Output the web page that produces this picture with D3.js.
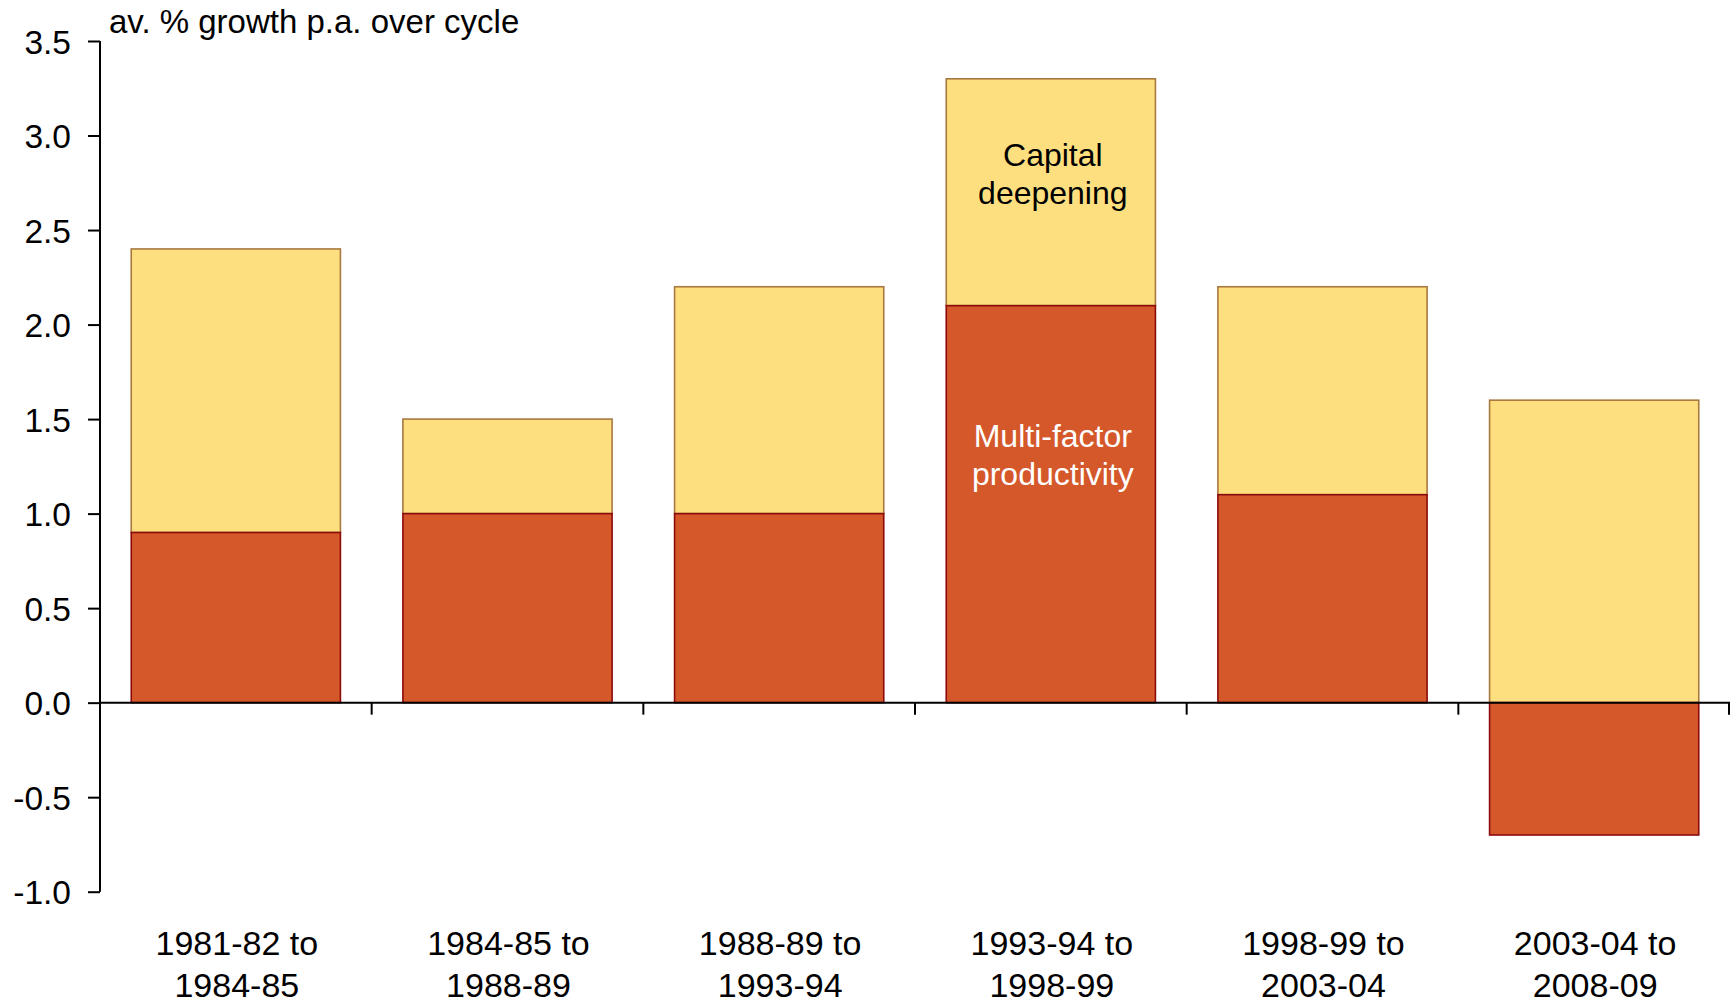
<!DOCTYPE html>
<html>
<head>
<meta charset="utf-8">
<script src="https://cdn.jsdelivr.net/npm/d3@7"></script>
<style>
  html, body { margin: 0; padding: 0; background: #fff; }
  svg { display: block; }
  text { font-family: "Liberation Sans", Arial, sans-serif; }
</style>
</head>
<body>
<svg id="chart" width="1730" height="1002"></svg>
<script>
// ---- data ----
const categories = [
  ["1981-82 to", "1984-85"],
  ["1984-85 to", "1988-89"],
  ["1988-89 to", "1993-94"],
  ["1993-94 to", "1998-99"],
  ["1998-99 to", "2003-04"],
  ["2003-04 to", "2008-09"]
];
const multiFactor = [0.9, 1.0, 1.0, 2.1, 1.1, -0.7];
const capitalDeepening = [1.5, 0.5, 1.2, 1.2, 1.1, 1.6];
const yTicks = [-1.0, -0.5, 0.0, 0.5, 1.0, 1.5, 2.0, 2.5, 3.0, 3.5];
const yTitle = "av. % growth p.a. over cycle";
const labelCapital = ["Capital", "deepening"];
const labelMFP = ["Multi-factor", "productivity"];

// ---- layout ----
const svg = d3.select("#chart");
const mLeft = 100, mRight = 1730, mTop = 41, mBottom = 891.7;
const catKeys = categories.map((c, i) => i);

const x = d3.scaleBand().domain(catKeys).range([mLeft, mRight])
  .paddingInner(0.23).paddingOuter(0.115);
const y = d3.scaleLinear().domain([-1, 3.5]).range([mBottom, mTop]);

const yellow = "#FDDF7F", yellowStroke = "#A8783F";
const red = "#D5582B", redStroke = "#8B0A0A";

// stacked segments: capital deepening stacked on positive MFP, else from 0
const segs = catKeys.map(i => {
  const m = multiFactor[i], c = capitalDeepening[i];
  const base = m > 0 ? m : 0;
  return { i, m, c0: base, c1: base + c };
});

// yellow (capital deepening)
svg.append("g").selectAll("rect").data(segs).join("rect")
  .attr("x", d => x(d.i))
  .attr("width", x.bandwidth())
  .attr("y", d => y(d.c1))
  .attr("height", d => y(d.c0) - y(d.c1))
  .attr("fill", yellow)
  .attr("stroke", yellowStroke)
  .attr("stroke-width", 1.6);

// red (multi-factor productivity)
svg.append("g").selectAll("rect").data(segs).join("rect")
  .attr("x", d => x(d.i))
  .attr("width", x.bandwidth())
  .attr("y", d => y(Math.max(0, d.m)))
  .attr("height", d => Math.abs(y(d.m) - y(0)))
  .attr("fill", red)
  .attr("stroke", redStroke)
  .attr("stroke-width", 1.6);

// y axis
const yAxis = d3.axisLeft(y).tickValues(yTicks).tickFormat(d => d.toFixed(1))
  .tickSize(12).tickPadding(17);
const gy = svg.append("g").attr("transform", `translate(${mLeft},0)`).call(yAxis);
gy.select(".domain").attr("stroke", "#000").attr("stroke-width", 2)
  .attr("d", `M0,${y(3.5)}V${y(-1)}`);
gy.selectAll(".tick line").attr("stroke", "#000").attr("stroke-width", 2);
gy.selectAll(".tick text").attr("fill", "#000")
  .style("font-size", "33.5px").style("font-family", "'Liberation Sans', Arial, sans-serif")
  .attr("dy", "0.36em");

// x axis along zero
const step = x.step();
const gx = svg.append("g").attr("transform", `translate(0,${y(0)})`);
gx.append("line").attr("x1", mLeft).attr("x2", mRight).attr("y1", 0).attr("y2", 0)
  .attr("stroke", "#000").attr("stroke-width", 2);
gx.selectAll("line.cat").data(d3.range(1, categories.length + 1)).join("line")
  .attr("class", "cat")
  .attr("x1", d => mLeft + d * step - (d === categories.length ? 1 : 0))
  .attr("x2", d => mLeft + d * step - (d === categories.length ? 1 : 0))
  .attr("y1", 0).attr("y2", 12)
  .attr("stroke", "#000").attr("stroke-width", 2);

// category labels
const labels = svg.append("g");
catKeys.forEach(i => {
  const cx = x(i) + x.bandwidth() / 2 + 1;
  const t = labels.append("text").attr("text-anchor", "middle")
    .attr("x", cx).attr("y", 955)
    .style("font-size", "34px").attr("fill", "#000");
  t.append("tspan").attr("x", cx).text(categories[i][0]);
  t.append("tspan").attr("x", cx).attr("dy", 42).text(categories[i][1]);
});

// y title
svg.append("text").attr("x", 109).attr("y", 33)
  .style("font-size", "33px").attr("fill", "#000").text(yTitle);

// in-bar annotations on the 4th bar
const ai = 3;
const acx = x(ai) + x.bandwidth() / 2 + 2;
const capMid = (segs[ai].c0 + segs[ai].c1) / 2;
const mfpMid = segs[ai].m / 2;
svg.append("text").attr("text-anchor", "middle").attr("x", acx)
  .attr("y", y(capMid) - 26).style("font-size", "32px").attr("fill", "#000")
  .call(t => {
    t.append("tspan").attr("x", acx).text(labelCapital[0]);
    t.append("tspan").attr("x", acx).attr("dy", 38).text(labelCapital[1]);
  });
svg.append("text").attr("text-anchor", "middle").attr("x", acx)
  .attr("y", y(mfpMid) - 57).style("font-size", "32px").attr("fill", "#fff")
  .call(t => {
    t.append("tspan").attr("x", acx).text(labelMFP[0]);
    t.append("tspan").attr("x", acx).attr("dy", 38).text(labelMFP[1]);
  });
</script>
</body>
</html>
